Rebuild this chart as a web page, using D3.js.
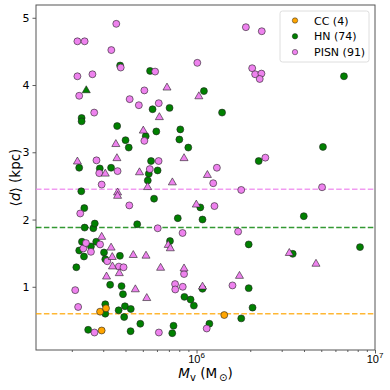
<!DOCTYPE html>
<html>
<head>
<meta charset="utf-8">
<script src="https://cdn.jsdelivr.net/npm/d3@7"></script>
<style>
  body { margin: 0; background: #fff; }
  svg { font-family: "DejaVu Sans", sans-serif; }
</style>
</head>
<body>
<div id="chart"></div>
<script>
// [M_v (Msun), <d> (kpc)]
const ccCircles = [[2.88e5,0.63],[3.11e5,0.68],[2.94e5,0.35],[1.43e6,0.58]];

const hnCircles = [
  [3.73e5,4.29],[5.49e5,4.21],[2.27e5,3.51],[2.27e5,3.46],[3.59e5,3.39],[5.67e5,3.64],[7.06e5,3.66],
  [4.00e5,3.18],[4.17e5,3.07],[5.19e5,3.24],[5.95e5,3.31],[8.11e5,3.34],[8.01e5,3.19],[8.99e5,3.07],
  [2.20e5,2.77],[2.87e5,2.76],[3.32e5,2.77],[5.56e5,2.87],[6.05e5,2.73],[5.40e5,2.68],[5.33e5,2.58],
  [2.26e5,2.42],[5.78e5,2.31],[1.10e6,3.91],[1.39e6,3.59],[2.23e6,2.87],[5.11e6,3.08],[6.70e6,4.13],
  [2.35e5,2.17],[2.36e5,1.88],[2.64e5,1.87],[2.69e5,1.94],[4.65e5,1.93],[7.85e5,2.02],[2.28e5,1.67],
  [2.20e5,1.54],[2.34e5,1.45],[2.56e5,1.60],[2.74e5,1.67],[3.03e5,1.51],[3.08e5,1.41],[3.72e5,1.46],
  [2.12e5,1.29],[3.28e5,1.03],[3.80e5,1.01],[3.87e5,0.89],[3.08e5,0.74],[3.97e5,0.71],[4.28e5,0.67],
  [3.66e5,0.65],[3.08e5,0.60],[3.93e5,0.55],[4.84e5,0.45],[2.47e5,0.36],[4.27e5,0.34],[7.43e5,0.42],
  [7.31e5,0.31],[7.10e5,1.68],[8.55e5,0.85],[9.26e5,0.81],[9.66e5,0.72],[1.05e6,2.18],[1.08e6,2.00],
  [3.99e6,2.05],[1.96e6,1.63],[3.46e6,1.49],[8.24e6,1.59],[1.08e6,0.97],[1.96e6,0.98],[2.06e6,0.69],
  [1.78e6,0.53],[1.18e6,0.45]
];
const hnTriangles = [[2.41e5,3.92]];

const pisnCircles = [
  [3.55e5,4.91],[2.15e5,4.65],[2.36e5,4.65],[3.33e5,4.52],[2.15e5,4.13],[2.61e5,4.16],[3.76e5,4.26],
  [5.86e5,4.20],[2.20e5,3.84],[5.10e5,3.92],[4.22e5,3.79],[4.75e5,3.70],[6.14e5,3.73],[2.67e5,3.59],
  [5.10e5,3.17],[2.75e5,2.88],[2.85e5,2.69],[3.61e5,2.72],[2.94e5,2.52],[5.47e5,2.75],[6.13e5,2.87],
  [1.01e6,4.33],[1.89e6,4.86],[2.32e6,4.80],[2.05e6,4.25],[2.13e6,4.16],[2.31e6,4.17],[2.26e6,4.09],
  [1.30e6,2.77],[2.43e6,2.92],[1.24e6,2.54],[1.78e6,2.44],[5.05e6,2.48],
  [2.23e5,2.09],[4.20e5,2.21],[6.06e5,1.87],[8.35e5,1.80],[2.32e5,1.57],[2.40e5,1.65],[2.56e5,1.52],
  [2.88e5,1.63],[3.16e5,1.38],[3.67e5,1.30],[3.90e5,1.29],[2.09e5,0.95],[2.17e5,0.70],[7.58e5,1.04],
  [7.60e5,0.96],[8.37e5,1.00],[2.68e5,0.32],[6.15e5,0.32],[8.51e5,1.19],[1.26e6,2.20],[1.71e6,1.82],
  [1.59e6,1.02],[1.14e6,0.38]
];
const pisnTriangles = [
  [6.83e5,3.96],[6.19e5,3.52],[5.03e5,3.32],[3.53e5,3.12],[3.58e5,2.91],[2.15e5,2.86],[3.08e5,2.68],
  [4.79e5,2.70],[7.32e5,2.55],[8.51e5,2.91],[1.03e6,3.83],[5.32e5,2.48],[3.61e5,2.40],[3.61e5,2.35],
  [1.15e6,2.66],[2.94e5,1.74],[3.32e5,1.58],[3.37e5,1.44],[3.38e5,1.30],[3.69e5,1.20],[3.13e5,1.15],
  [4.42e5,1.47],[5.21e5,1.46],[6.29e5,1.28],[4.54e5,0.96],[5.26e5,0.83],[6.94e5,1.62],[7.13e5,1.57],
  [8.51e5,1.27],[9.97e5,2.22],[3.31e6,1.50],[4.67e6,1.34],[1.74e6,1.16],[1.08e6,1.00]
];

const categories = ["CC", "HN", "PISN"];
const counts = [4, 74, 91];
const meanDist = [0.60, 1.88, 2.45];
const yTicks = [1, 2, 3, 4, 5];
const xMajor = [1e6, 1e7];
const xMinor = [2e5,3e5,4e5,5e5,6e5,7e5,8e5,9e5,2e6,3e6,4e6,5e6,6e6,7e6,8e6,9e6];

const colors = { CC: "orange", HN: "green", PISN: "violet" };

const W = 390, H = 390;
const margin = {top: 5, right: 15, bottom: 40, left: 36};
const width = W - margin.left - margin.right,
      height = H - margin.top - margin.bottom;

const svg = d3.select("#chart").append("svg")
    .attr("width", W).attr("height", H);
const g = svg.append("g")
    .attr("transform", "translate(" + margin.left + "," + margin.top + ")");

const x = d3.scaleLog().domain([1.26e5, 1e7]).range([0, width]);
const y = d3.scaleLinear().domain([0.06, 5.19]).range([height, 0]);

// X axis: major + minor ticks, labels drawn as 10^n
const xAxis = g.append("g")
    .attr("transform", "translate(0," + height + ")")
    .call(d3.axisBottom(x).tickValues(xMajor).tickSize(3.5).tickFormat(""));
xAxis.append("g").call(d3.axisBottom(x).tickValues(xMinor).tickSize(2).tickFormat(""));
xAxis.selectAll("path.domain").remove();
xAxis.selectAll("line").attr("stroke", "#333").attr("stroke-width", 0.8);
xMajor.forEach(v => {
  const t = xAxis.append("text")
      .attr("x", x(v)).attr("y", 12.5)
      .attr("text-anchor", "middle")
      .attr("fill", "#000")
      .style("font-size", "11px");
  t.append("tspan").text("10");
  t.append("tspan").attr("dy", -4.5).style("font-size", "8px").text(Math.round(Math.log10(v)));
});

// Y axis
const yAxis = g.append("g")
    .call(d3.axisLeft(y).tickValues(yTicks).tickSize(3.5).tickPadding(3).tickFormat(d3.format("d")));
yAxis.select("path.domain").remove();
yAxis.selectAll("line").attr("stroke", "#333").attr("stroke-width", 0.8);
yAxis.selectAll("text").style("font-size", "11px").style("font-family", "DejaVu Sans").attr("fill", "#000");

// frame
g.append("rect")
    .attr("width", width).attr("height", height)
    .attr("fill", "none").attr("stroke", "#555").attr("stroke-width", 1);

// axis labels
const xl = svg.append("text")
    .attr("x", margin.left + width / 2).attr("y", 378)
    .attr("text-anchor", "middle")
    .style("font-size", "13.5px");
xl.append("tspan").style("font-style", "italic").text("M");
xl.append("tspan").attr("dy", 3).style("font-size", "10px").text("v");
xl.append("tspan").attr("dy", -3).text(" (M");
xl.append("tspan").attr("dy", 3).style("font-size", "10px").text("\u2009\u2299");
xl.append("tspan").attr("dy", -3).text(")");

const yl = svg.append("text")
    .attr("transform", "translate(20," + (margin.top + height / 2) + ") rotate(-90)")
    .attr("text-anchor", "middle")
    .style("font-size", "13.5px");
yl.append("tspan").text("\u27E8");
yl.append("tspan").style("font-style", "italic").text("d");
yl.append("tspan").text("\u27E9 (kpc)");

// dashed mean lines
g.append("g").selectAll("line")
  .data(categories)
  .join("line")
    .attr("x1", 0).attr("x2", width)
    .attr("y1", (c, i) => y(meanDist[i])).attr("y2", (c, i) => y(meanDist[i]))
    .attr("stroke", c => colors[c])
    .attr("stroke-opacity", 0.8)
    .attr("stroke-width", 1.5)
    .attr("stroke-dasharray", "5.5,2.4");

// points
const circ = d3.symbol().type(d3.symbolCircle).size(38)();
const tri = d3.symbol().type(d3.symbolTriangle).size(28)();
const layers = [
  ["HN", hnCircles, circ], ["HN", hnTriangles, tri],
  ["PISN", pisnCircles, circ], ["PISN", pisnTriangles, tri],
  ["CC", ccCircles, circ]
];
layers.forEach(([cat, data, shape]) => {
  g.append("g").selectAll("path")
    .data(data)
    .join("path")
      .attr("transform", d => `translate(${x(d[0])},${y(d[1])})`)
      .attr("d", shape)
      .attr("fill", colors[cat])
      .attr("stroke", "#222")
      .attr("stroke-width", 0.6);
});

// legend
const leg = svg.append("g");
leg.append("rect")
    .attr("x", 280).attr("y", 11).attr("width", 89).attr("height", 51)
    .attr("rx", 2.5)
    .attr("fill", "#fff").attr("fill-opacity", 0.8)
    .attr("stroke", "#d6d6d6").attr("stroke-width", 0.8);
categories.forEach((c, i) => {
  const ly = 20.5 + i * 15.8;
  leg.append("circle")
      .attr("cx", 295).attr("cy", ly).attr("r", 2.7)
      .attr("fill", colors[c]).attr("stroke", "#222").attr("stroke-width", 0.5);
  leg.append("text")
      .attr("x", 314).attr("y", ly + 4)
      .style("font-size", "11px")
      .text(`${c} (${counts[i]})`);
});
</script>
</body>
</html>
